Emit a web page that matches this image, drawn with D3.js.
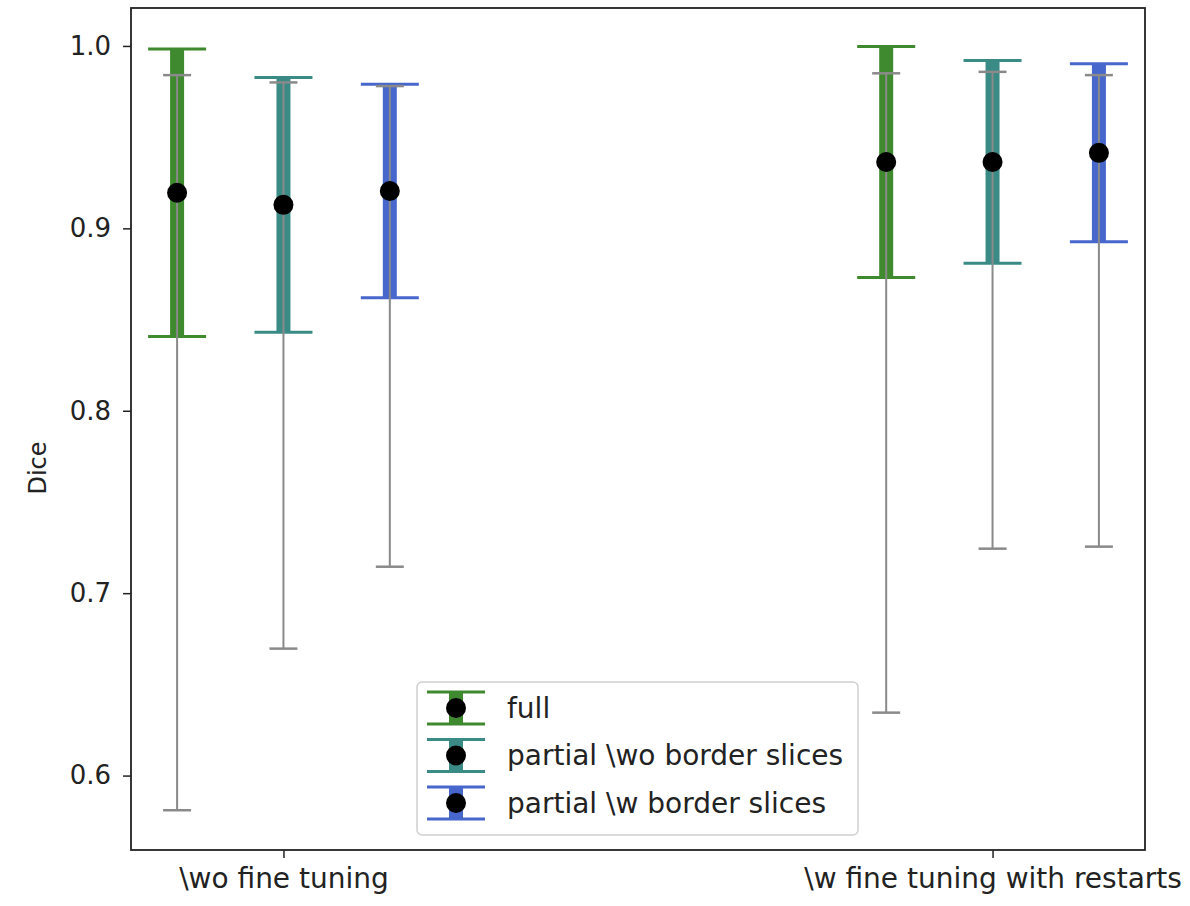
<!DOCTYPE html>
<html lang="en">
<head>
<meta charset="utf-8" />
<title>Dice error bars</title>
<script src="https://d3js.org/d3.v7.min.js"></script>
<style>
  body{margin:0;background:#fff;}
  svg{display:block;}
  text{font-family:"DejaVu Sans",sans-serif;fill:#222;}
</style>
</head>
<body>
<svg id="chart" width="1190" height="906"></svg>
<script>
// ---------- DATA ----------
const CATEGORIES=['\\wo fine tuning','\\w fine tuning with restarts'];
const SERIES=['full','partial \\wo border slices','partial \\w border slices'];
const COLORS=['#3f8a2e','#3a8a86','#4767cc'];
// mean per category, for each series
const MEAN_FULL=[0.9195,0.9364];
const MEAN_WO=[0.9129,0.9364];
const MEAN_W=[0.9205,0.9414];
// std (thick coloured bars)
const STD_FULL=[0.0788,0.0633];
const STD_WO=[0.0698,0.0556];
const STD_W=[0.0585,0.0488];
// min / max (thin grey bars)
const MIN_FULL=[0.581,0.6345];
const MIN_WO=[0.6696,0.7244];
const MIN_W=[0.7145,0.7255];
const MAX_FULL=[0.984,0.985];
const MAX_WO=[0.980,0.9858];
const MAX_W=[0.978,0.984];
const Y_TICKS=[0.6,0.7,0.8,0.9,1.0];
const OFFSETS=[-0.15,0,0.15];

const rows=SERIES.map((s,i)=>({
  name:s,color:COLORS[i],offset:OFFSETS[i],
  mean:[MEAN_FULL,MEAN_WO,MEAN_W][i],
  std:[STD_FULL,STD_WO,STD_W][i],
  min:[MIN_FULL,MIN_WO,MIN_W][i],
  max:[MAX_FULL,MAX_WO,MAX_W][i]
}));

// ---------- LAYOUT ----------
const svg=d3.select('#chart');
const L=131,R=1145,T=8,B=850;
const x=d3.scaleLinear().domain([-0.215,1.215]).range([L,R]);
const y=d3.scaleLinear().domain([0.5592,1.0208]).range([B,T]);

// axes
svg.append('g').attr('transform',`translate(${L},0)`)
  .call(d3.axisLeft(y).tickValues(Y_TICKS).tickFormat(d3.format('.1f')).tickSize(8).tickPadding(12))
  .call(g=>g.select('.domain').remove())
  .call(g=>g.selectAll('line').attr('stroke','#222').attr('stroke-width',1.5))
  .call(g=>g.selectAll('text').style('font-size','26px').attr('fill','#222'));
svg.append('g').attr('transform',`translate(0,${B})`)
  .call(d3.axisBottom(x).tickValues([0,1]).tickFormat(i=>CATEGORIES[i]).tickSize(8).tickPadding(10))
  .call(g=>g.select('.domain').remove())
  .call(g=>g.selectAll('line').attr('stroke','#222').attr('stroke-width',1.5))
  .call(g=>g.selectAll('text').style('font-size','28px').attr('fill','#222'));
svg.append('text').attr('transform','translate(46,468) rotate(-90)')
  .attr('text-anchor','middle').style('font-size','24px').text('Dice');

// ---------- MARKS ----------
const plot=svg.append('g');
rows.forEach(r=>{
  CATEGORIES.forEach((c,i)=>{
    const cx=x(i+r.offset);
    const g=plot.append('g');
    // std bar
    g.append('line').attr('x1',cx).attr('x2',cx)
      .attr('y1',y(r.mean[i]+r.std[i])).attr('y2',y(r.mean[i]-r.std[i]))
      .attr('stroke',r.color).attr('stroke-width',14);
    [r.mean[i]+r.std[i],r.mean[i]-r.std[i]].forEach(v=>{
      g.append('line').attr('x1',cx-29).attr('x2',cx+29).attr('y1',y(v)).attr('y2',y(v))
        .attr('stroke',r.color).attr('stroke-width',3);
    });
    // min/max bar
    g.append('line').attr('x1',cx).attr('x2',cx)
      .attr('y1',y(r.max[i])).attr('y2',y(r.min[i]))
      .attr('stroke','#8a8a8a').attr('stroke-width',2);
    [r.max[i],r.min[i]].forEach(v=>{
      g.append('line').attr('x1',cx-14).attr('x2',cx+14).attr('y1',y(v)).attr('y2',y(v))
        .attr('stroke','#8a8a8a').attr('stroke-width',2.5);
    });
    g.append('circle').attr('cx',cx).attr('cy',y(r.mean[i])).attr('r',10).attr('fill','#000');
  });
});

// frame
svg.append('rect').attr('x',L).attr('y',T).attr('width',R-L).attr('height',B-T)
  .attr('fill','none').attr('stroke','#222').attr('stroke-width',1.8);

// ---------- LEGEND ----------
const leg=svg.append('g').attr('transform','translate(417,682)');
leg.append('rect').attr('width',441).attr('height',153).attr('rx',5)
  .attr('fill','#fff').attr('fill-opacity',0.85).attr('stroke','#d0d0d0').attr('stroke-width',1.5);
rows.forEach((r,k)=>{
  const cy=26+k*47.5, hx=39;
  const item=leg.append('g');
  item.append('line').attr('x1',hx).attr('x2',hx).attr('y1',cy-16).attr('y2',cy+16)
    .attr('stroke',r.color).attr('stroke-width',14);
  [cy-16,cy+16].forEach(v=>item.append('line').attr('x1',hx-29).attr('x2',hx+29)
    .attr('y1',v).attr('y2',v).attr('stroke',r.color).attr('stroke-width',3));
  item.append('circle').attr('cx',hx).attr('cy',cy).attr('r',10).attr('fill','#000');
  item.append('text').attr('x',90).attr('y',cy).attr('dy','0.35em')
    .style('font-size','28px').text(r.name);
});
</script>
</body>
</html>
